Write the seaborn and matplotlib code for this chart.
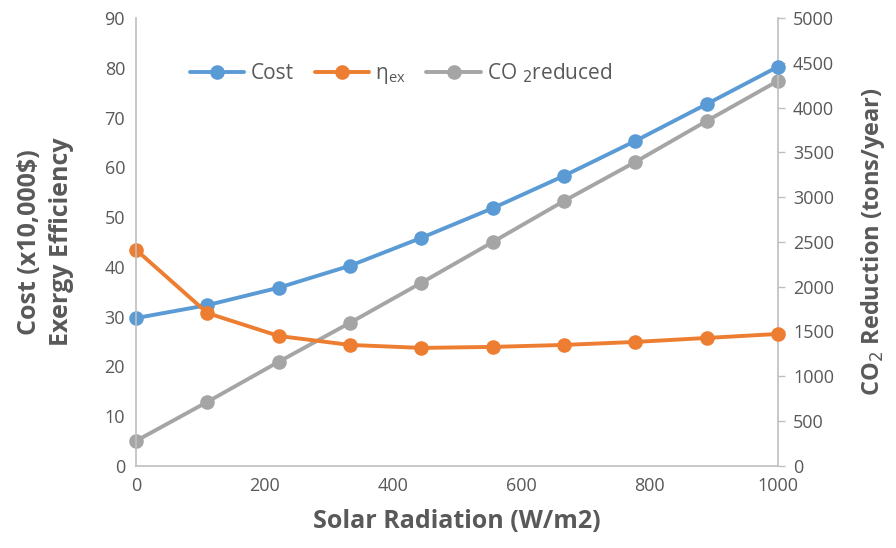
import matplotlib
matplotlib.use("Agg")
import matplotlib.pyplot as plt
import seaborn as sns
import pandas as pd

radiation = [0, 111, 222, 333, 444, 556, 667, 778, 889, 1000]
cost = [29.7, 32.3, 35.8, 40.2, 45.8, 51.8, 58.3, 65.3, 72.7, 80.2]
eta_ex = [43.4, 30.7, 26.1, 24.3, 23.7, 23.9, 24.3, 24.9, 25.7, 26.5]
co2_reduced = [279, 714, 1161, 1596, 2042, 2500, 2958, 3393, 3850, 4297]

sns.set_theme(style="white")
plt.rcParams['font.family'] = ['Open Sans', 'DejaVu Sans']

df = pd.DataFrame({"x": radiation, "cost": cost, "eta": eta_ex, "co2": co2_reduced})

fig = plt.figure(figsize=(8.96, 5.48), dpi=100)
ax = fig.add_axes([0.152, 0.150, 0.716, 0.817])
ax2 = ax.twinx()

c_cost, c_eta, c_co2 = "#5B9BD5", "#ED7D31", "#A5A5A5"
kw = dict(marker="o", markersize=10.5, linewidth=2.8, markeredgewidth=0, clip_on=False)

sns.lineplot(data=df, x="x", y="co2", ax=ax2, color=c_co2, label="CO $_2$reduced", legend=False, **kw)
sns.lineplot(data=df, x="x", y="cost", ax=ax, color=c_cost, label="Cost", legend=False, **kw)
sns.lineplot(data=df, x="x", y="eta", ax=ax, color=c_eta, label=r"η$_{\mathregular{ex}}$", legend=False, **kw)

ax.set_zorder(ax2.get_zorder() + 1)
ax.patch.set_visible(False)

tick_color = "#595959"
ax.set_xlim(0, 1000)
ax.set_ylim(0, 90)
ax.set_yticks(range(0, 91, 10))
ax.set_xticks(range(0, 1001, 200))
ax2.set_ylim(0, 5000)
ax2.set_yticks(range(0, 5001, 500))

for a in (ax, ax2):
    for s in a.spines.values():
        s.set_visible(False)
ax.spines['left'].set_visible(True)
ax.spines['bottom'].set_visible(True)
ax2.spines['right'].set_visible(True)
for s in (ax.spines['left'], ax.spines['bottom'], ax2.spines['right']):
    s.set_color("#BFBFBF")
    s.set_linewidth(1.2)

ax.tick_params(axis='both', labelsize=13, colors=tick_color, length=0, pad=8)
ax2.tick_params(axis='y', labelsize=13, colors=tick_color, length=5, width=1, direction='out', pad=6)
ax2.tick_params(axis='y', color="#BFBFBF")

lab_kw = dict(fontsize=18, fontweight='bold', color=tick_color)
ax.set_xlabel("Solar Radiation (W/m2)", labelpad=10, **lab_kw)
ax.set_ylabel("Cost (x10,000\\$)\nExergy Efficiency", labelpad=22, linespacing=1.35, **lab_kw)
ax2.set_ylabel("CO$_2$ Reduction (tons/year)", labelpad=18, fontsize=17, fontweight='bold', color=tick_color)

h1, l1 = ax.get_legend_handles_labels()
h2, l2 = ax2.get_legend_handles_labels()
leg = ax.legend(h1 + h2, l1 + l2, loc="upper left", bbox_to_anchor=(0.055, 0.945), ncol=3,
                frameon=False, fontsize=15, handlelength=2.6, columnspacing=1.0, handletextpad=0.3)
for t in leg.get_texts():
    t.set_color(tick_color)

fig.savefig("out.png", dpi=100)
